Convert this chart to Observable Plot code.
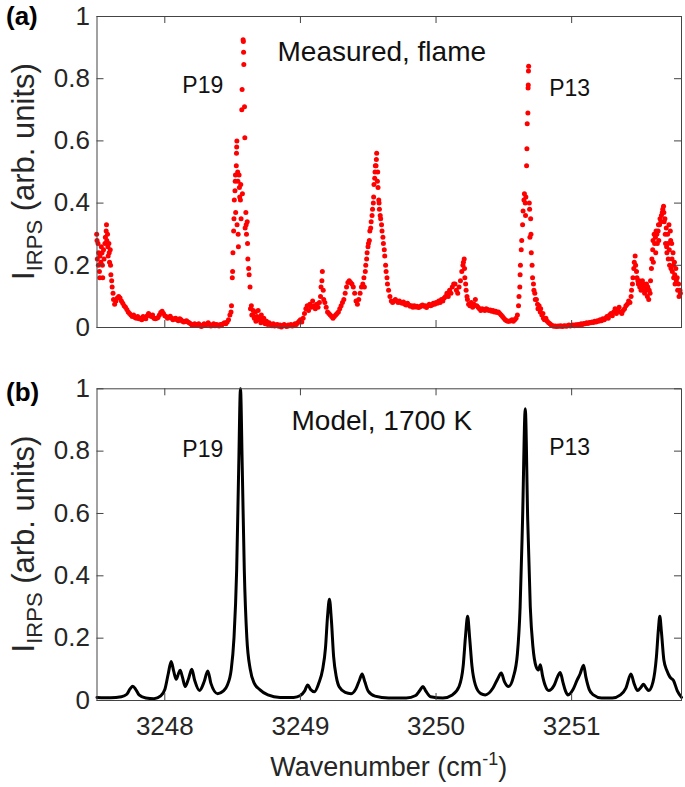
<!DOCTYPE html>
<html><head><meta charset="utf-8">
<script src="https://cdn.jsdelivr.net/npm/d3@7"></script>
<script src="https://cdn.jsdelivr.net/npm/@observablehq/plot@0.6"></script>
<style>
body{margin:0;background:#fff;}
#wrap{position:relative;width:685px;height:787px;}
#a,#b{position:absolute;left:0;}
#a{top:0}
#b{top:360px}
</style></head><body><div id="wrap"><div id="a"></div><div id="b"></div></div>
<script>
// ---------- data ----------
const xTicks = [3248, 3249, 3250, 3251];
const yTicks = [0, 0.2, 0.4, 0.6, 0.8, 1];
const xDomain = [3247.5, 3251.81];

// (a) measured spectrum, sampled every 0.01 cm-1 from 3247.50; sub-arrays = several dots in one sample step
const measuredStart = 3247.50;
const measuredStep = 0.01;
const measuredY = [
 [0.30,0.28,0.22],[0.27,0.20,0.24],[0.18,0.16,0.23],[0.21,0.26],[0.24,0.20,0.16],[0.25,0.22],[0.27,0.29],[0.31,0.33,0.28],[0.30,0.26,0.23],[0.27,0.24,0.21],
 [0.25,0.20,0.17],[0.15,0.13],[0.11,0.09],0.075,0.085,0.095,0.10,0.095,0.085,0.078,
 0.07,0.065,0.058,0.05,0.045,0.04,0.035,0.04,0.032,0.03,
 0.035,0.028,0.03,0.025,0.035,0.03,0.028,0.038,0.045,0.04,
 0.035,0.04,0.03,0.028,0.03,0.032,0.04,0.048,0.052,0.045,
 0.038,0.035,0.03,0.033,0.036,0.03,0.025,0.028,0.03,0.025,
 0.022,0.028,0.025,0.02,0.018,0.02,0.022,0.018,0.015,0.012,
 0.008,0.01,0.012,0.008,0.01,0.012,0.006,0.003,0.008,0.012,
 0.008,0.01,0.015,0.01,0.005,0.008,0.012,0.006,0.01,0.008,
 0.005,0.01,0.008,0.012,0.015,0.012,0.018,0.025,0.04,[0.05,0.07],
 [0.16,0.18,0.24],[0.31,0.35,0.41],[0.44,0.47,0.49,0.37],[0.52,0.56,0.58,0.60,0.33],[0.50,0.47,0.30,0.26],[0.49,0.45,0.42],[0.41,0.46,0.35],[0.70,0.765,0.43],[0.925,0.92,0.885,0.846],[0.71,0.61,0.32],
 [0.37,0.33,0.30],[0.34,0.27,0.22],[0.19,0.17],[0.13,0.06],[0.07,0.04],[0.04,0.055],0.03,[0.05,0.02],0.035,[0.055,0.025],
 0.03,[0.015,0.04],0.02,0.03,0.012,0.02,0.01,0.015,0.01,0.006,
 0.012,0.005,0.008,0.01,0.004,0.008,0.002,0.006,0.01,0.005,
 0.003,0.008,0.006,0.01,0.005,0.008,0.012,0.01,0.015,0.02,
 0.025,0.018,0.03,0.045,0.06,0.07,0.055,0.075,0.065,0.085,
 0.07,0.06,0.075,0.065,0.08,[0.10,0.13],[0.15,0.18],[0.12,0.09],0.08,0.065,
 0.05,0.045,0.04,0.035,0.03,0.035,0.04,0.045,0.05,0.06,
 0.07,0.08,0.09,0.11,0.13,0.145,0.15,0.145,0.14,0.13,
 0.11,0.085,0.075,0.09,0.11,0.13,0.14,[0.16,0.13],[0.18,0.20],[0.22,0.24],
 [0.26,0.27],[0.28,0.31],[0.32,0.34],[0.36,0.38],[0.40,0.42,0.46],[0.48,0.50,0.52],[0.52,0.54,0.56],[0.47,0.50,0.45],[0.41,0.40,0.38],[0.36,0.35],
 [0.33,0.31],[0.29,0.27],[0.25,0.23],[0.20,0.18],[0.16,0.14],0.12,0.10,0.085,0.08,0.085,
 0.09,0.085,0.08,0.085,0.08,0.078,0.082,0.075,0.072,0.078,
 0.072,0.068,0.07,0.065,0.07,0.066,0.068,0.064,0.066,0.07,
 0.072,0.068,0.07,0.064,0.07,0.075,0.07,0.072,0.078,0.075,
 0.08,0.078,0.085,0.08,0.09,0.085,0.095,0.10,0.11,0.10,
 0.12,0.11,0.13,0.14,0.14,0.12,0.11,0.13,0.15,0.18,
 [0.20,0.21],[0.22,0.19,0.16],[0.14,0.12],[0.10,0.09],0.075,0.07,0.08,0.065,0.075,0.09,
 0.07,0.065,0.06,0.055,0.06,0.058,0.055,0.06,0.058,0.055,
 0.056,0.052,0.055,0.05,0.052,0.048,0.05,0.045,0.04,0.035,
 0.03,0.025,0.022,0.02,0.02,0.022,0.025,0.02,0.025,0.03,
 0.04,[0.07,0.10],[0.13,0.17,0.20],[0.25,0.28],[0.33,0.375],[0.41,0.43],[0.40,0.36,0.42],[0.52,0.575,0.655],[0.69,0.77,0.78,0.825,0.84],[0.40,0.38,0.29],
 [0.35,0.30,0.24],[0.20,0.16],[0.14,0.12],[0.11,0.09],0.09,[0.075,0.06],0.07,[0.05,0.06],0.04,[0.045,0.03],
 0.025,0.03,0.02,0.015,0.012,0.008,0.006,0.004,0.005,0.003,
 0.005,0.004,0.006,0.003,0.005,0.006,0.004,0.006,0.008,0.005,
 0.007,0.008,0.006,0.009,0.008,0.01,0.008,0.012,0.01,0.013,
 0.012,0.015,0.013,0.016,0.015,0.018,0.016,0.02,0.018,0.022,
 0.02,0.025,0.022,0.028,0.025,0.03,0.035,0.03,0.04,0.045,
 0.038,0.05,0.06,0.045,0.055,0.065,0.05,0.045,0.055,0.06,
 0.07,0.075,0.085,0.08,[0.10,0.12],[0.14,0.16],[0.19,0.21],[0.23,0.20],[0.18,0.16],[0.15,0.14],
 [0.15,0.13],[0.14,0.12],[0.13,0.15],[0.12,0.14],[0.11,0.13],[0.12,0.14],[0.10,0.13],[0.09,0.12],[0.11,0.15],[0.19,0.22],
 [0.25,0.28,0.21],[0.30,0.27],[0.29,0.24,0.31],[0.30,0.27],[0.31,0.33,0.28],[0.33,0.35],[0.34,0.36],[0.37,0.38],[0.39,0.37,0.34],[0.35,0.30,0.27],
 [0.32,0.26,0.24],[0.30,0.27,0.22],[0.33,0.25,0.20],[0.31,0.28,0.19],[0.27,0.22,0.18],[0.24,0.20,0.16],[0.21,0.17,0.14],[0.19,0.15],[0.16,0.12],[0.14,0.10],
 [0.12,0.11]
];

// (b) model spectrum at 1700 K
const modelX = [
 3247.50,3247.60,3247.68,3247.72,3247.745,3247.764,3247.785,3247.81,3247.86,3247.92,
 3247.97,3248.00,3248.025,3248.047,3248.065,3248.084,3248.10,3248.113,3248.13,3248.150,
 3248.175,3248.199,3248.22,3248.256,3248.29,3248.317,3248.34,3248.39,3248.43,3248.46,
 3248.49,3248.51,3248.53,3248.545,3248.558,3248.571,3248.586,3248.605,3248.63,3248.66,
 3248.70,3248.76,3248.85,3248.95,3249.00,3249.03,3249.054,3249.075,3249.103,3249.135,
 3249.164,3249.185,3249.20,3249.214,3249.228,3249.245,3249.265,3249.287,3249.33,3249.374,
 3249.41,3249.435,3249.455,3249.475,3249.50,3249.55,3249.65,3249.78,3249.85,3249.88,
 3249.904,3249.925,3249.96,3250.05,3250.12,3250.17,3250.20,3250.218,3250.233,3250.248,
 3250.265,3250.29,3250.33,3250.363,3250.42,3250.455,3250.481,3250.505,3250.535,3250.57,
 3250.60,3250.62,3250.638,3250.658,3250.676,3250.695,3250.715,3250.737,3250.755,3250.769,
 3250.785,3250.805,3250.830,3250.87,3250.895,3250.916,3250.935,3250.955,3250.973,3251.01,
 3251.04,3251.062,3251.088,3251.105,3251.13,3251.16,3251.22,3251.30,3251.36,3251.40,
 3251.437,3251.46,3251.486,3251.51,3251.53,3251.55,3251.567,3251.60,3251.625,3251.64,
 3251.65,3251.662,3251.68,3251.702,3251.725,3251.751,3251.78,3251.81
];
const modelY = [
 0.010,0.009,0.012,0.020,0.038,0.046,0.036,0.018,0.008,0.006,
 0.015,0.035,0.085,0.125,0.095,0.068,0.085,0.097,0.075,0.045,
 0.070,0.100,0.065,0.032,0.060,0.095,0.055,0.022,0.030,0.048,
 0.10,0.20,0.42,0.75,1.0,0.75,0.42,0.20,0.10,0.055,
 0.035,0.018,0.010,0.010,0.016,0.030,0.050,0.035,0.028,0.055,
 0.10,0.17,0.27,0.325,0.26,0.14,0.075,0.043,0.026,0.022,
 0.038,0.065,0.085,0.060,0.030,0.014,0.008,0.008,0.016,0.032,
 0.045,0.030,0.012,0.008,0.018,0.045,0.11,0.21,0.27,0.20,
 0.11,0.050,0.022,0.018,0.040,0.07,0.088,0.060,0.045,0.075,
 0.15,0.30,0.58,0.936,0.58,0.30,0.17,0.11,0.098,0.115,
 0.080,0.048,0.032,0.048,0.075,0.090,0.060,0.030,0.018,0.035,
 0.065,0.085,0.113,0.075,0.035,0.018,0.008,0.008,0.018,0.040,
 0.085,0.055,0.032,0.042,0.052,0.040,0.032,0.060,0.14,0.23,
 0.27,0.22,0.13,0.096,0.075,0.064,0.030,0.010
];

const annotationsA = [
 {x: 3249.60, y: 0.887, text: "Measured, flame", size: 28},
 {x: 3248.28, y: 0.778, text: "P19", size: 23},
 {x: 3250.985, y: 0.768, text: "P13", size: 23}
];
const annotationsB = [
 {x: 3249.60, y: 0.898, text: "Model, 1700 K", size: 28},
 {x: 3248.28, y: 0.804, text: "P19", size: 23},
 {x: 3250.985, y: 0.812, text: "P13", size: 23}
];

// ---------- build tables ----------
const measured = [];
measuredY.forEach((v, i) => {
  const vals = Array.isArray(v) ? v : [v];
  const n = vals.length;
  vals.forEach((y, j) => {
    const off = n > 1 ? (j - (n - 1) / 2) * (0.7 / n) : 0;
    measured.push({x: measuredStart + measuredStep * (i + off), y});
  });
});
const model = modelX.map((x, i) => ({x, y: modelY[i]}));

// ---------- layout ----------
const FONT = '"Liberation Sans", Arial, Helvetica, sans-serif';
const W = 685, ML = 96.5, MR = 4;
const PW = W - ML - MR;
const AXC = "#444";
const TXT = "#262626";

function boxMarks(ph) {
  return [
    Plot.frame({stroke: AXC, strokeWidth: 1}),
    Plot.tickX(xTicks, {x: d => d, insetTop: ph - 7, stroke: AXC}),
    Plot.tickX(xTicks, {x: d => d, insetBottom: ph - 7, stroke: AXC}),
    Plot.tickY(yTicks, {y: d => d, insetRight: PW - 7, stroke: AXC}),
    Plot.tickY(yTicks, {y: d => d, insetLeft: PW - 7, stroke: AXC}),
    Plot.axisY(yTicks, {anchor: "left", tickSize: 0, tickPadding: 7, tickFormat: d => String(d), fontSize: 26, fill: TXT, label: null})
  ];
}
function annMarks(list) {
  return list.map(a => Plot.text([a], {x: "x", y: "y", text: "text", fontSize: a.size, fill: "#111"}));
}

const phA = 311;
const svgA = Plot.plot({
  width: W, height: 340, marginLeft: ML, marginRight: MR, marginTop: 16, marginBottom: 13,
  x: {domain: xDomain, axis: null},
  y: {domain: [0, 1]},
  style: {fontFamily: FONT, fontSize: "25px", color: TXT, background: "transparent", overflow: "visible"},
  marks: [
    Plot.dot(measured, {x: "x", y: "y", r: 2.5, fill: "#ff0000", stroke: "none"}),
    ...boxMarks(phA),
    ...annMarks(annotationsA)
  ]
});
document.getElementById("a").appendChild(svgA);

const phB = 311.7;
const svgB = Plot.plot({
  width: W, height: 427, marginLeft: ML, marginRight: MR, marginTop: 28.3, marginBottom: 87,
  x: {domain: xDomain},
  y: {domain: [0, 1]},
  style: {fontFamily: FONT, fontSize: "25px", color: TXT, background: "transparent", overflow: "visible"},
  marks: [
    Plot.line(model, {x: "x", y: "y", stroke: "#000", strokeWidth: 3, curve: "monotone-x"}),
    ...boxMarks(phB),
    Plot.axisX(xTicks, {anchor: "bottom", tickSize: 0, tickPadding: 16, tickFormat: d => String(d), fontSize: 26, fill: TXT, label: null}),
    ...annMarks(annotationsB)
  ]
});
document.getElementById("b").appendChild(svgB);

// ---------- labels ----------
function yLabel(svg, cy) {
  const t = d3.select(svg).append("text")
    .attr("transform", `translate(34,${cy}) rotate(-90)`)
    .attr("text-anchor", "middle").attr("font-family", FONT)
    .attr("font-size", 31).attr("fill", TXT);
  t.append("tspan").text("I");
  t.append("tspan").attr("font-size", 22).attr("dy", 8).text("IRPS");
  t.append("tspan").attr("dy", -8).text(" (arb. units)");
}
function panelLabel(svg, y, s) {
  d3.select(svg).append("text").attr("x", 6).attr("y", y)
    .attr("text-anchor", "start")
    .attr("font-family", FONT).attr("font-weight", "bold").attr("font-size", 26)
    .attr("fill", "#000").text(s);
}
yLabel(svgA, 171.5);
yLabel(svgB, 184);
panelLabel(svgA, 25, "(a)");
panelLabel(svgB, 41, "(b)");

const xl = d3.select(svgB).append("text")
  .attr("x", ML + PW / 2).attr("y", 416).attr("text-anchor", "middle")
  .attr("font-family", FONT).attr("font-size", 27).attr("fill", TXT);
xl.append("tspan").text("Wavenumber (cm");
xl.append("tspan").attr("font-size", 18).attr("dy", -11).text("-1");
xl.append("tspan").attr("dy", 11).text(")");
</script>
</body></html>
